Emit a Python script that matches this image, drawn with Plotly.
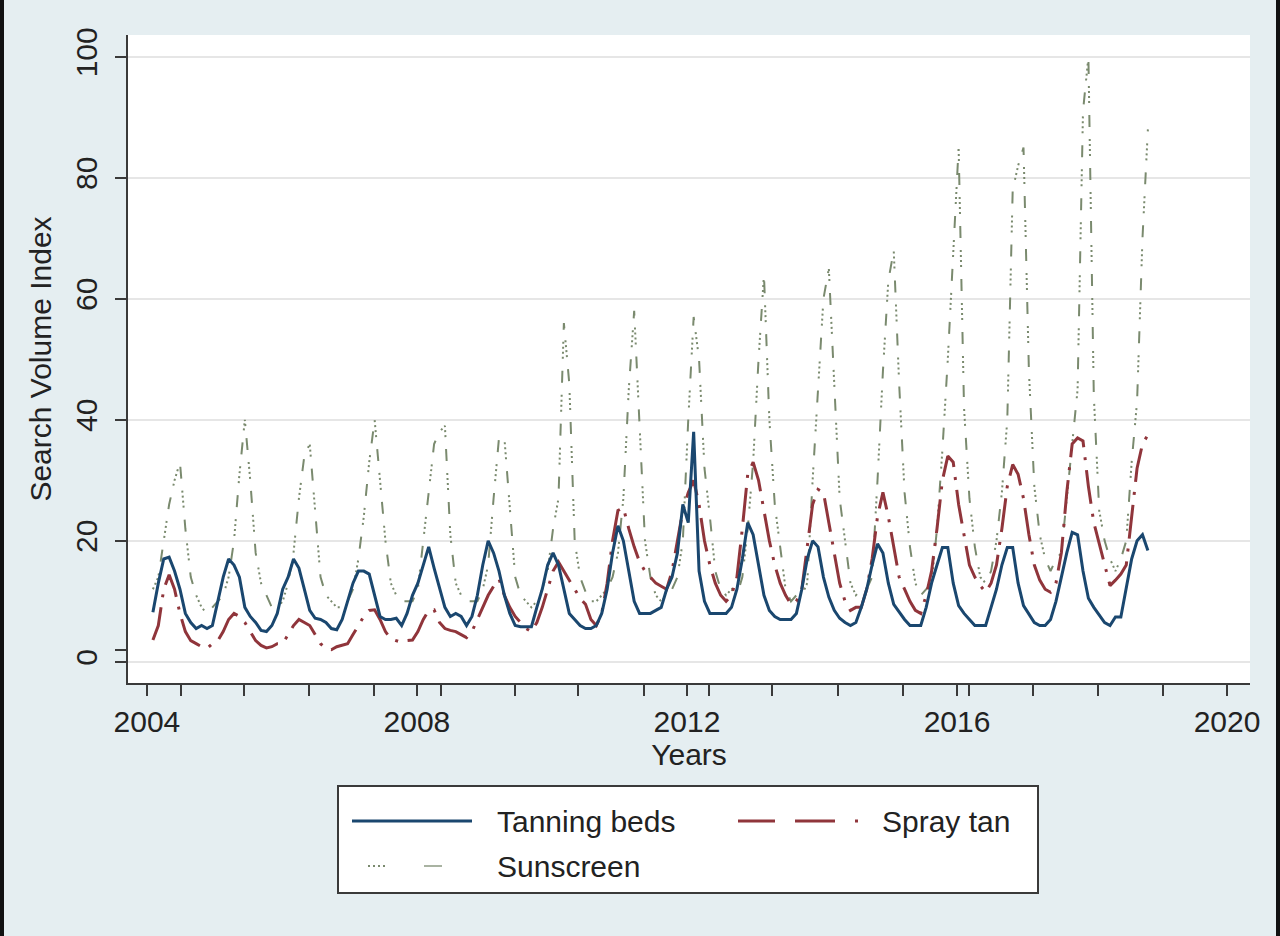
"""Seasonal search volume for tanning beds, spray tan and sunscreen (Stata-style line chart)."""

import numpy as np
import plotly.graph_objects as go

# monthly values, Jan 2004 onwards (one row per year)
TANNING_BEDS = [
    8.2, 13, 17, 17.3, 15, 12, 8, 6.5, 5.5, 6, 5.5, 6,
    10, 14, 17, 16, 14, 9, 7.5, 6.5, 5.2, 5, 6, 8,
    12, 14, 17, 15.5, 12, 8.5, 7.2, 7, 6.5, 5.5, 5.3, 7,
    10, 13, 15, 15, 14.5, 11, 7.5, 7, 7, 7.2, 6, 8,
    11, 13, 16, 19, 15.5, 12, 9, 7.5, 8, 7.5, 6, 7.5,
    11, 16, 20, 18, 15, 11, 8, 6, 5.8, 5.8, 5.8, 9,
    12, 16, 18, 16, 12, 8, 7, 6, 5.5, 5.5, 6, 8,
    12, 18, 22.5, 20, 15, 10, 8, 8, 8, 8.5, 9, 12,
    14, 18, 26, 23, 38, 15, 10, 8, 8, 8, 8, 9,
    12, 17, 23, 21, 16, 11, 8.5, 7.5, 7, 7, 7, 8,
    12, 17, 20, 19, 14, 10.7, 8.5, 7.2, 6.5, 6, 6.5, 9,
    12, 16, 19.5, 18, 13, 9.5, 8.2, 7, 6, 6, 6, 9,
    13, 16, 18.9, 18.9, 13, 9.3, 8, 7, 6, 6, 6, 9,
    12, 16, 18.9, 18.9, 13, 9.3, 8, 6.5, 6, 6, 7, 10,
    14, 18, 21.4, 21, 15, 10.5, 9, 7.7, 6.5, 6, 7.4, 7.4,
    12, 17, 20, 21, 18.4,
]

SPRAY_TAN = [
    3.6, 6, 12, 14.4, 12, 8, 5, 3.5, 3, 2.5, 2.2, 3,
    3.5, 5, 7, 8, 7.5, 6.5, 5, 3.5, 2.7, 2.3, 2.5, 3,
    3, 4.5, 6, 7, 6.5, 6, 4.5, 3, 2.2, 2, 2.5, 2.8,
    3, 4.5, 6, 7.5, 8.5, 8.6, 7, 5, 3.8, 3.5, 3.2, 3.5,
    3.6, 5, 7, 8.5, 8.6, 6.5, 5.5, 5.2, 5, 4.5, 4, 5,
    7, 9, 11, 12.5, 13.7, 11, 9, 7.5, 6.5, 5.5, 5, 6.5,
    9, 12, 15, 16.5, 15, 13.7, 12, 10.5, 9.5, 7, 6, 8,
    13, 20, 25, 25.5, 22, 19, 16.5, 15, 14, 13, 12.5, 12,
    15, 20, 25, 28, 30, 26, 20, 16, 13, 11, 10, 11,
    14, 22, 31, 33, 30, 25, 20, 16, 13, 11, 9.5, 10,
    12, 19, 26, 28.5, 28, 23, 18, 13, 10, 8.5, 9, 9,
    12, 17, 24, 28, 24, 19, 14, 12, 10, 8.5, 8, 11,
    15, 22, 30, 34, 33, 26, 21, 16, 14, 12.6, 11.5, 13,
    16, 22, 29, 32.6, 31, 27, 21, 16, 13.5, 12, 11.5, 13,
    18, 28, 36, 37, 36.5, 29, 23, 19.5, 16, 12.6, 13.5, 14.5,
    16, 24, 32, 36, 37.5,
]

SUNSCREEN = [
    12, 14, 20, 26, 30, 33, 22, 14, 11, 9, 8, 9,
    10, 11, 14, 20, 31, 40, 30, 18, 13, 11, 9, 9,
    10, 13, 18, 27, 34, 36, 25, 14, 11, 10, 9, 9,
    10, 12, 17, 24, 33, 40, 30, 20, 13, 11, 10, 10,
    10, 12, 20, 28, 36, 38, 39, 21, 13, 11, 10, 10,
    10, 12, 16, 27, 37, 37, 25, 14, 11, 10, 9, 10,
    12, 15, 22, 27, 56, 46, 20, 14, 11.6, 10, 10, 11,
    12, 14, 18, 27, 45, 58, 40, 20, 14, 11, 10, 11,
    12, 14, 20, 40, 57, 50, 32, 24, 15, 12, 11, 12,
    11, 14, 22, 33, 50, 64, 40, 26, 19, 12, 10, 11,
    11, 13, 30, 45, 60, 65, 45, 27, 20, 13, 11, 12,
    12, 14, 30, 48, 63, 68, 46, 28, 19, 13, 11, 12,
    13, 22, 35, 50, 68, 85, 42, 27, 19, 14, 13, 15,
    20, 28, 40, 78, 82, 85, 48, 29, 21, 17, 15, 17,
    18, 27, 36, 45, 91, 100, 44, 25, 20, 17, 15, 17,
    20, 33, 43, 70, 88,
]

X_TICKS = [2004, 2008, 2012, 2016, 2020]
X_MINOR_TICKS = [2004.5, 2005.44, 2006.4, 2007.37, 2008.35, 2009.45, 2010.39, 2011.36,
                 2012.33, 2013.26, 2014.24, 2015.2, 2016.18, 2017.12, 2018.09, 2019.05]
Y_TICKS = [0, 20, 40, 60, 80, 100]

# the series sit on the axis a bit compressed: first month just after 2004,
# about 12.5 months per labelled year
X_START = 2004.089
X_STEP = 0.0801
years = X_START + np.arange(len(TANNING_BEDS)) * X_STEP

NAVY = '#1a476f'
MAROON = '#90353b'
GREEN_GRAY = '#7a8a6e'
AXIS = '#3a3a3a'
BG = '#e5eef1'
FONT = 'Liberation Sans, Arial, sans-serif'

# plot area in page pixels (used for the hand-drawn legend box and frame)
PL, PR, PT, PB = 128, 1250, 35, 683


def px(x):
    return (x - PL) / (PR - PL)


def py(y):
    return (PB - y) / (PB - PT)


fig = go.Figure()
fig.add_trace(go.Scatter(x=years, y=SUNSCREEN, mode='lines', name='Sunscreen',
                         line=dict(color=GREEN_GRAY, width=2, dash='2px,3px,2px,3px,2px,3px,2px,12px,12px,12px')))
fig.add_trace(go.Scatter(x=years, y=SPRAY_TAN, mode='lines', name='Spray tan',
                         line=dict(color=MAROON, width=3, dash='34px,10px,3px,10px')))
fig.add_trace(go.Scatter(x=years, y=TANNING_BEDS, mode='lines', name='Tanning beds',
                         line=dict(color=NAVY, width=3)))

shapes = [
    # dark frame strips at the page edges
    dict(type='rect', xref='paper', yref='paper', x0=px(0), x1=px(4), y0=py(936), y1=py(0),
         fillcolor='#111111', line=dict(width=0)),
    dict(type='rect', xref='paper', yref='paper', x0=px(1276), x1=px(1280), y0=py(936), y1=py(0),
         fillcolor='#111111', line=dict(width=0)),
    # legend box
    dict(type='rect', xref='paper', yref='paper', x0=px(338), x1=px(1038), y0=py(893), y1=py(786),
         fillcolor='white', line=dict(color=AXIS, width=2)),
    dict(type='line', xref='paper', yref='paper', x0=px(352), x1=px(472), y0=py(821), y1=py(821),
         line=dict(color=NAVY, width=3)),
    dict(type='line', xref='paper', yref='paper', x0=px(738), x1=px(860), y0=py(821), y1=py(821),
         line=dict(color=MAROON, width=3, dash='37px,20px,40px,20px,3px,20px')),
    dict(type='line', xref='paper', yref='paper', x0=px(368), x1=px(388), y0=py(866), y1=py(866),
         line=dict(color=GREEN_GRAY, width=2, dash='2px,3px')),
    dict(type='line', xref='paper', yref='paper', x0=px(424), x1=px(442), y0=py(866), y1=py(866),
         line=dict(color='#a9b3a2', width=2)),
]

legend_text = [('Tanning beds', 495, 821), ('Spray tan', 880, 821), ('Sunscreen', 495, 866)]
annotations = [
    dict(text=t, x=px(x), y=py(y), xref='paper', yref='paper', xanchor='left', yanchor='middle',
         showarrow=False, font=dict(family=FONT, size=30, color='#222222'))
    for t, x, y in legend_text
]

fig.update_layout(
    width=1280,
    height=936,
    margin=dict(l=PL, r=1280 - PR, t=PT, b=936 - PB),
    paper_bgcolor=BG,
    plot_bgcolor='white',
    showlegend=False,
    font=dict(family=FONT, size=30, color='#222222'),
    shapes=shapes,
    annotations=annotations,
    xaxis=dict(
        range=[2003.72, 2020.34],
        automargin=False,
        tickmode='array',
        tickvals=X_TICKS,
        ticks='outside',
        ticklen=11,
        tickwidth=2,
        tickcolor=AXIS,
        showline=True,
        linecolor=AXIS,
        linewidth=2,
        showgrid=False,
        zeroline=False,
        tickfont=dict(size=30),
        minor=dict(tickmode='array', tickvals=X_MINOR_TICKS, ticks='outside', ticklen=11,
                   tickwidth=2, tickcolor=AXIS, showgrid=False),
        title=dict(text='Years', font=dict(size=30), standoff=0),
    ),
    yaxis=dict(
        range=[-3.5, 103.6],
        automargin=False,
        tickmode='array',
        tickvals=Y_TICKS,
        tickangle=-90,
        ticks='outside',
        ticklen=11,
        tickwidth=2,
        tickcolor=AXIS,
        showline=True,
        linecolor=AXIS,
        linewidth=2,
        showgrid=True,
        gridcolor='#e6e6e6',
        gridwidth=1.5,
        zeroline=False,
        tickfont=dict(size=30),
        ticklabelstandoff=6,
        minor=dict(tickmode='array', tickvals=[1.9], ticks='outside', ticklen=11,
                   tickwidth=2, tickcolor=AXIS, showgrid=False),
        title=dict(text='Search Volume Index', font=dict(size=30), standoff=10),
    ),
)

# the page's default body margin would push the 1280x936 figure off the window
fig.write_html('out.html', config={'displayModeBar': False},
               post_script="document.body.style.margin='0';document.body.style.overflow='hidden';")
